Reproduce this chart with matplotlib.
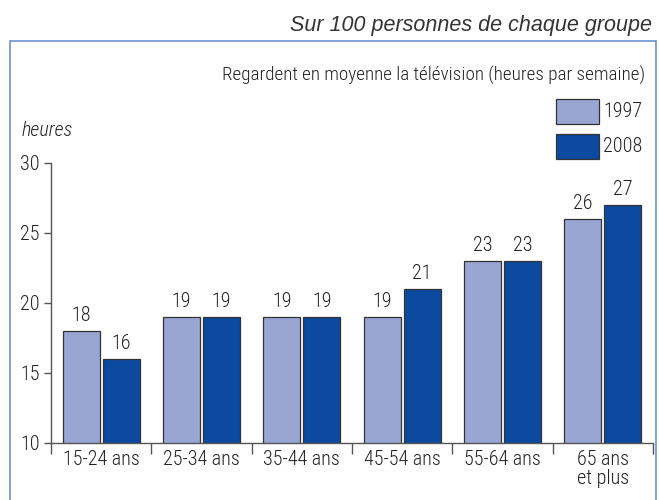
import matplotlib
matplotlib.use("Agg")
import matplotlib.pyplot as plt
from matplotlib.patches import Rectangle
from matplotlib import font_manager
import numpy as np

categories = ["15-24 ans", "25-34 ans", "35-44 ans", "45-54 ans", "55-64 ans", "65 ans\net plus"]
series_names = ["1997", "2008"]
values_1997 = [18, 19, 19, 19, 23, 26]
values_2008 = [16, 19, 19, 21, 23, 27]
yticks = [10, 15, 20, 25, 30]

names = {f.name for f in font_manager.fontManager.ttflist}
narrow = [n for n in ["Roboto Condensed", "Liberation Sans Narrow", "DejaVu Sans Condensed"] if n in names]
cond = narrow + ["DejaVu Sans"]
W_ = "light"

c1997 = "#99a5d3"
c2008 = "#0b4a9e"
edge = "#333333"
txt = "#222222"
FS = 14.5

fig = plt.figure(figsize=(6.59, 5.0), dpi=100)
W, H = 659, 500

# frame
fig.patches.append(Rectangle((10 / W, -0.1), (656 - 10) / W, (500 - 41) / H + 0.1,
                             transform=fig.transFigure, fill=False,
                             edgecolor="#6a93d6", linewidth=1.2))

ax = fig.add_axes([51 / W, (H - 443) / H, (653 - 51) / W, (443 - 163) / H])
x = np.arange(len(categories))
bw = 0.37
gap = 0.03
b1 = ax.bar(x - (bw + gap) / 2, values_1997, bw, bottom=0, color=c1997, edgecolor=edge, linewidth=0.9)
b2 = ax.bar(x + (bw + gap) / 2, values_2008, bw, bottom=0, color=c2008, edgecolor=edge, linewidth=0.9)
ax.set_ylim(10, 30)
ax.set_xlim(-0.5, len(categories) - 0.5)

for bars, vals in ((b1, values_1997), (b2, values_2008)):
    for r, v in zip(bars, vals):
        ax.text(r.get_x() + r.get_width() / 2, v + 0.45, str(v), ha="center", va="bottom",
                fontsize=FS, family=cond, weight=W_, color=txt)

for s in ["top", "right"]:
    ax.spines[s].set_visible(False)
for s in ["left", "bottom"]:
    ax.spines[s].set_color("#555555")
    ax.spines[s].set_linewidth(1.0)

ax.set_yticks(yticks)
ax.set_yticklabels([str(t) for t in yticks], family=cond, fontsize=FS, weight=W_, color=txt)
ax.tick_params(axis="y", length=5, width=1, color="#555555", pad=3)

ax.set_xticks(np.arange(len(categories) + 1) - 0.5)
ax.set_xticklabels([])
ax.tick_params(axis="x", length=8, width=1, color="#555555")
ax.set_xticks(x, minor=True)
ax.set_xticklabels(categories, minor=True, family=cond, fontsize=FS, weight=W_, color=txt, linespacing=1.0)
ax.tick_params(axis="x", which="minor", length=0, pad=5)

fig.text(652 / W, 1 - 25 / H, "Sur 100 personnes de chaque groupe", ha="right", va="center",
         fontsize=15.5, style="italic", family=["Liberation Sans", "DejaVu Sans"], color="#333333")
fig.text(645 / W, 1 - 75 / H, "Regardent en moyenne la télévision (heures par semaine)", ha="right",
         va="center", fontsize=13.8, family=cond, weight=W_, color=txt)
fig.text(22 / W, 1 - 131 / H, "heures", ha="left", va="center", fontsize=FS, style="italic",
         family=cond, weight=W_, color=txt)

# legend
for i, (name, col) in enumerate(zip(series_names, [c1997, c2008])):
    y0 = 99 + i * 35
    fig.patches.append(Rectangle((556 / W, 1 - (y0 + 25) / H), 43 / W, 25 / H,
                                 transform=fig.transFigure, facecolor=col, edgecolor=edge, linewidth=0.9))
    fig.text(603 / W, 1 - (y0 + 12.5) / H, name, ha="left", va="center", fontsize=FS,
             family=cond, weight=W_, color=txt)

fig.savefig("out.png", dpi=100)
